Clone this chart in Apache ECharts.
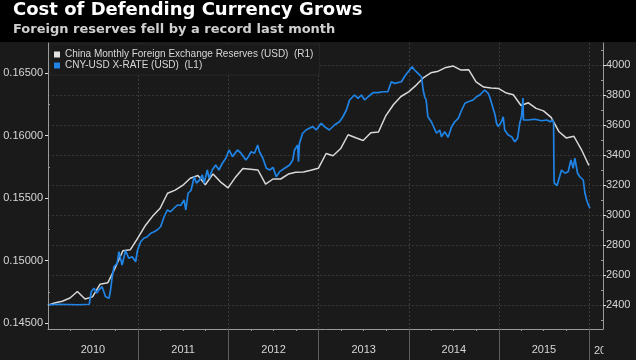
<!DOCTYPE html>
<html><head><meta charset="utf-8">
<script src="https://cdn.jsdelivr.net/npm/echarts@6/dist/echarts.min.js"></script>
<style>html,body{margin:0;padding:0;background:#1a1a1a}#c{width:636px;height:360px}</style>
</head><body><div id="c"></div>
<script>
// ---- Data ----
// China monthly FX reserves (USD bn), month-end, Dec 2009 .. Dec 2015
const reserveStart = [2009, 11]; // Dec 2009 (month index 11)
const reserveValues = [
  2399,
  2415, 2425, 2447, 2490, 2440, 2454, 2539, 2548, 2648, 2761, 2768, 2847,
  2932, 2991, 3045, 3145, 3166, 3197, 3245, 3263, 3202, 3274, 3221, 3181,
  3254, 3310, 3305, 3300, 3206, 3240, 3240, 3273, 3285, 3287, 3298, 3312,
  3410, 3395, 3443, 3535, 3515, 3497, 3548, 3553, 3663, 3737, 3790, 3821,
  3866, 3914, 3948, 3959, 3984, 3993, 3966, 3969, 3888, 3853, 3847, 3843,
  3813, 3802, 3730, 3748, 3711, 3694, 3651, 3557, 3514, 3525, 3438, 3330
];
// CNY-USD exchange rate
const fxDates = [
 '2010-01-04','2010-02-12','2010-03-26','2010-05-06','2010-06-17','2010-06-21','2010-06-25','2010-07-06','2010-07-18','2010-07-28',
 '2010-08-08','2010-08-22','2010-09-05','2010-09-11','2010-09-18','2010-09-25','2010-10-08','2010-10-15','2010-10-28','2010-11-11',
 '2010-11-24','2010-12-08','2010-12-22','2010-12-29','2011-01-11','2011-01-24','2011-02-07','2011-02-21','2011-03-07','2011-03-19',
 '2011-04-02','2011-04-16','2011-04-29','2011-05-12','2011-05-26','2011-06-09','2011-06-22','2011-07-06','2011-07-13','2011-07-22',
 '2011-08-03','2011-08-16','2011-08-25','2011-09-05','2011-09-18','2011-09-25','2011-10-08','2011-10-15','2011-10-28','2011-11-11',
 '2011-11-24','2011-12-08','2011-12-22','2012-01-04','2012-01-18','2012-02-07','2012-02-21','2012-02-28','2012-03-12','2012-03-22',
 '2012-04-02','2012-04-16','2012-04-29','2012-05-06','2012-05-20','2012-06-03','2012-06-17','2012-06-30','2012-07-13','2012-07-27',
 '2012-08-16','2012-09-05','2012-09-18','2012-09-25','2012-10-08','2012-10-11','2012-10-15','2012-10-28','2012-11-11','2012-11-24',
 '2012-12-08','2012-12-22','2013-01-11','2013-01-24','2013-02-13','2013-02-21','2013-03-06','2013-03-26','2013-04-09','2013-04-23',
 '2013-05-06','2013-05-26','2013-06-09','2013-06-23','2013-07-06','2013-07-20','2013-08-09','2013-08-29','2013-09-18','2013-10-08',
 '2013-10-22','2013-11-04','2013-12-02','2013-12-16','2014-01-04','2014-01-14','2014-01-24','2014-02-07','2014-02-21','2014-02-28',
 '2014-03-06','2014-03-12','2014-03-19','2014-04-02','2014-04-09','2014-04-23','2014-05-06','2014-05-13','2014-05-26','2014-06-09',
 '2014-06-23','2014-07-06','2014-07-20','2014-08-03','2014-08-16','2014-08-29','2014-09-18','2014-10-02','2014-10-15','2014-11-04',
 '2014-11-18','2014-11-24','2014-12-02','2014-12-16','2014-12-22','2014-12-29','2015-01-11','2015-01-18','2015-01-24','2015-02-07',
 '2015-02-21','2015-03-06','2015-03-17','2015-03-26','2015-04-02','2015-04-08','2015-04-10','2015-04-29','2015-05-26','2015-06-23',
 '2015-07-13','2015-07-27','2015-08-07','2015-08-10','2015-08-11','2015-08-12','2015-08-13','2015-08-24','2015-09-11','2015-09-25',
 '2015-10-08','2015-10-19','2015-10-28','2015-11-04','2015-11-15','2015-11-24','2015-12-08','2015-12-15','2015-12-22','2015-12-29',
 '2016-01-04'
];
const fxValues = [
 0.14645,0.14650,0.14648,0.14646,0.14650,0.14700,0.14750,0.14778,0.14740,0.14770,
 0.14790,0.14710,0.14698,0.14760,0.14870,0.14950,0.14977,0.15070,0.14964,0.15080,
 0.15018,0.15030,0.14990,0.15080,0.15150,0.15178,0.15190,0.15218,0.15230,0.15244,
 0.15270,0.15350,0.15404,0.15390,0.15418,0.15444,0.15440,0.15484,0.15404,0.15538,
 0.15560,0.15670,0.15620,0.15640,0.15684,0.15618,0.15724,0.15658,0.15724,0.15764,
 0.15724,0.15778,0.15818,0.15884,0.15831,0.15884,0.15860,0.15870,0.15804,0.15830,
 0.15870,0.15858,0.15924,0.15870,0.15818,0.15738,0.15724,0.15745,0.15670,0.15711,
 0.15738,0.15764,0.15804,0.15884,0.15924,0.15790,0.15937,0.16018,0.16044,0.16058,
 0.16071,0.16044,0.16098,0.16071,0.16044,0.16030,0.16084,0.16110,0.16150,0.16204,
 0.16284,0.16324,0.16297,0.16324,0.16284,0.16310,0.16343,0.16343,0.16350,0.16350,
 0.16430,0.16417,0.16430,0.16476,0.16524,0.16550,0.16524,0.16497,0.16470,0.16364,
 0.16310,0.16284,0.16150,0.16110,0.16124,0.16018,0.16044,0.15990,0.16030,0.15986,
 0.16070,0.16110,0.16137,0.16204,0.16258,0.16270,0.16284,0.16310,0.16324,0.16364,
 0.16337,0.16310,0.16258,0.16164,0.16098,0.16071,0.16110,0.16150,0.16044,0.16004,
 0.15990,0.15950,0.15977,0.16098,0.16150,0.16300,0.16124,0.16124,0.16130,0.16118,
 0.16124,0.16110,0.16124,0.16100,0.15820,0.15640,0.15618,0.15600,0.15724,0.15698,
 0.15710,0.15804,0.15737,0.15818,0.15698,0.15670,0.15644,0.15538,0.15484,0.15444,
 0.15418
];
const leftTickLabels = [0.145, 0.150, 0.155, 0.160, 0.165];
const leftMinorTicks = [0.1475, 0.1525, 0.1575, 0.1625];
const rightTickLabels = [2400, 2600, 2800, 3000, 3200, 3400, 3600, 3800, 4000];
const rightMinorTicks = [2300, 2500, 2700, 2900, 3100, 3300, 3500, 3700, 3900, 4100];
const yearLabels = [2010, 2011, 2012, 2013, 2014, 2015];
const seriesNames = ['China Monthly Foreign Exchange Reserves (USD)  (R1)', 'CNY-USD X-RATE (USD)  (L1)'];

// ---- Build ----
const toMs = s => { const p = s.split('-').map(Number); return +new Date(p[0], p[1] - 1, p[2]); };
const reserveData = reserveValues.map((v, i) => {
  const d = new Date(reserveStart[0], reserveStart[1] + i + 1, 0); // month end
  return [+d, v];
});
const fxData = fxDates.map((d, i) => [toMs(d), fxValues[i]]);
const xMin = +new Date(2010, 0, 1);
const xMax = +new Date(2016, 1, 26);
const yearStarts = [2011, 2012, 2013, 2014, 2015, 2016].map(y => +new Date(y, 0, 1));
const midYears = yearLabels.map(y => +new Date(y, 6, 2));
const quarterTicks = [];
for (let y = 2010; y <= 2015; y++) { [3, 6, 9].forEach(m => quarterTicks.push(+new Date(y, m, 1))); }

const FONT = '"Liberation Sans", Arial, sans-serif';
const TFONT = '"DejaVu Sans", sans-serif';
const BG = '#1a1a1a';
const AX = '#9a9a9a';
const labelColor = '#d6d6d6';

const chart = echarts.init(document.getElementById('c'), null, { renderer: 'canvas' });
chart.setOption({
  backgroundColor: BG,
  animation: false,
  graphic: [
    { type: 'rect', z: -1, shape: { x: 0, y: 0, width: 636, height: 42 }, style: { fill: '#000' } },
    { type: 'text', z: 50, left: 594, top: 345, style: { text: '2016', fill: labelColor, font: '11px ' + FONT } },
    { type: 'rect', z: 60, shape: { x: 603.5, y: 331, width: 33, height: 29 }, style: { fill: BG } }
  ],
  title: [
    { text: 'Cost of Defending Currency Grows', left: 13, top: 1, padding: 0,
      textStyle: { color: '#ffffff', fontSize: 18, fontWeight: 'bold', fontFamily: TFONT } },
    { text: 'Foreign reserves fell by a record last month', left: 13, top: 23, padding: 0,
      textStyle: { color: '#cfcfcf', fontSize: 13, fontWeight: 'bold', fontFamily: TFONT } }
  ],
  legend: {
    orient: 'vertical', left: 50, top: 44, itemWidth: 6, itemHeight: 6, icon: 'rect', itemGap: 0,
    padding: [5, 6, 4, 4], backgroundColor: BG, borderColor: '#262626', borderWidth: 1,
    textStyle: { color: '#d8d8d8', fontSize: 10, fontFamily: FONT, lineHeight: 11 },
    data: seriesNames
  },
  grid: { left: 48, right: 33, top: 43, bottom: 31, containLabel: false },
  xAxis: [
    { type: 'value', min: xMin, max: xMax,
      axisLine: { show: true, lineStyle: { color: AX, width: 1 } },
      axisTick: { show: true, customValues: yearStarts, length: 31, lineStyle: { color: '#5e5e5e' } },
      axisLabel: { customValues: midYears, formatter: v => String(new Date(v).getFullYear()),
        color: labelColor, fontSize: 11, fontFamily: FONT, margin: 15 },
      splitLine: { show: true, lineStyle: { color: '#3c3c3c', type: [2, 2] } } },
    { type: 'value', min: xMin, max: xMax, position: 'bottom',
      axisLine: { show: false },
      axisTick: { show: true, customValues: quarterTicks, length: 2, lineStyle: { color: AX } },
      axisLabel: { show: false }, splitLine: { show: false } }
  ],
  yAxis: [
    { type: 'value', position: 'left', min: 0.14452, max: 0.1674,
      axisLine: { show: true, lineStyle: { color: AX } },
      axisTick: { show: true, customValues: leftTickLabels, length: 3, lineStyle: { color: '#e0e0e0' } },
      axisLabel: { customValues: leftTickLabels, formatter: v => v.toFixed(5), color: labelColor, fontSize: 11, fontFamily: FONT, margin: 5 },
      splitLine: { show: false } },
    { type: 'value', position: 'right', min: 2240, max: 4146.7,
      axisLine: { show: true, lineStyle: { color: AX } },
      axisTick: { show: true, customValues: rightTickLabels, length: 3, lineStyle: { color: '#e0e0e0' } },
      axisLabel: { customValues: rightTickLabels, formatter: v => String(Math.round(v)), color: labelColor, fontSize: 11, fontFamily: FONT, margin: 3 },
      splitLine: { show: true, lineStyle: { color: '#353535', type: [2, 2] } } },
    { type: 'value', position: 'left', min: 0.14452, max: 0.1674,
      axisLine: { show: false },
      axisTick: { show: true, inside: true, customValues: leftMinorTicks, length: 2, lineStyle: { color: AX } },
      axisLabel: { show: false }, splitLine: { show: false } },
    { type: 'value', position: 'right', min: 2240, max: 4146.7,
      axisLine: { show: false },
      axisTick: { show: true, inside: true, customValues: rightMinorTicks, length: 2, lineStyle: { color: AX } },
      axisLabel: { show: false }, splitLine: { show: false } }
  ],
  series: [
    { name: seriesNames[0], type: 'line', xAxisIndex: 0, yAxisIndex: 1, data: reserveData,
      showSymbol: false, symbol: 'none', color: '#e2e2e2', lineStyle: { width: 1.5, color: '#d8d8d8' }, z: 3 },
    { name: seriesNames[1], type: 'line', xAxisIndex: 0, yAxisIndex: 0, data: fxData,
      showSymbol: false, symbol: 'none', color: '#1f84e6', lineStyle: { width: 1.7, color: '#1f84e6' }, z: 4 }
  ]
});
</script></body></html>
